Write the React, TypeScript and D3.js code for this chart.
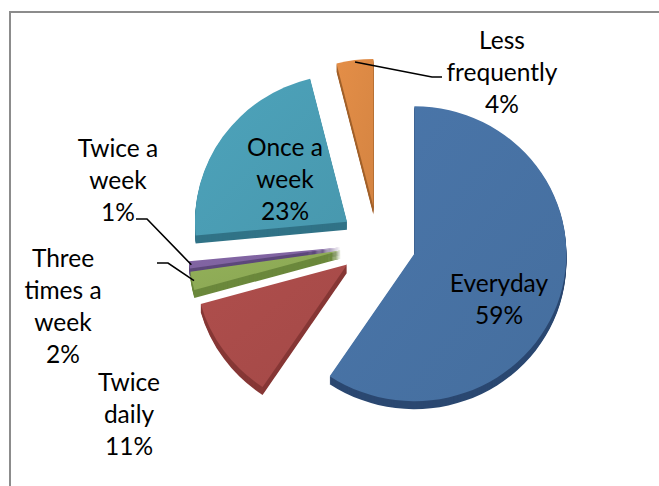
import { useEffect, useRef } from "react";
import * as d3 from "d3";

// slice order as drawn, clockwise from 12 o'clock
const categories = ["Everyday", "Twice daily", "Three times a week", "Twice a week", "Once a week", "Less frequently"];
const values = [59.4, 11.3, 2.0, 0.8, 22.6, 3.9];
const labelLines = [
  ["Everyday"],
  ["Twice", "daily"],
  ["Three", "times a", "week"],
  ["Twice a", "week"],
  ["Once a", "week"],
  ["Less", "frequently"],
];
const topColors = ["#4771a3", "#a84b49", "#8daa55", "#7f63a0", "#4a9cb3", "#da8844"];
const sideColors = ["#2b4871", "#873836", "#6b883c", "#5d487b", "#317387", "#a2602a"];

function App() {
  const ref = useRef<SVGSVGElement>(null);
  const width = 659;
  const height = 486;

  useEffect(() => {
    buildChart();
  }, []);

  const buildChart = () => {
    const svg = d3.select(ref.current);
    svg.selectAll("*").remove();

    const cx = 378;
    const cy = 243;
    const r = 152;
    const tilt = 0.97; // vertical squash of the disc
    const depth = 8;
    const explode = 38;
    const total = d3.sum(values);

    // chart area frame (only top + left are in view)
    svg
      .append("path")
      .attr("d", `M10,${height} V12 H${width}`)
      .attr("fill", "none")
      .attr("stroke", "#8c8c8c")
      .attr("stroke-width", 2);

    const pie = d3
      .pie<number>()
      .sort(null)
      .value((d) => d);
    const arcs = pie(values);
    const arc = d3.arc<d3.PieArcDatum<number>>().innerRadius(0).outerRadius(r);

    const dir = (a: number) => [Math.sin(a), -Math.cos(a) * tilt];
    const apex = (d: d3.PieArcDatum<number>) => {
      const [dx, dy] = dir((d.startAngle + d.endAngle) / 2);
      return [cx + dx * explode, cy + dy * explode];
    };

    const defs = svg.append("defs");
    topColors.forEach((c, i) => {
      const g = defs
        .append("linearGradient")
        .attr("id", "g" + i)
        .attr("x1", 0)
        .attr("y1", 0)
        .attr("x2", 1)
        .attr("y2", 1);
      g.append("stop").attr("offset", 0).attr("stop-color", d3.color(c)!.brighter(0.12).toString());
      g.append("stop").attr("offset", 1).attr("stop-color", d3.color(c)!.darker(0.08).toString());
    });

    // draw back slices first
    const order = d3.range(arcs.length).sort((a, b) => apex(arcs[a])[1] - apex(arcs[b])[1]);

    order.forEach((i) => {
      const d = arcs[i];
      const [ax, ay] = apex(d);
      const g = svg.append("g");
      for (let k = depth; k >= 1; k--) {
        g.append("path")
          .attr("d", arc(d))
          .attr("transform", `translate(${ax},${ay + k}) scale(1,${tilt})`)
          .attr("fill", sideColors[i]);
      }
      g.append("path")
        .attr("d", arc(d))
        .attr("transform", `translate(${ax},${ay}) scale(1,${tilt})`)
        .attr("fill", `url(#g${i})`);
    });

    // label placement (centre x, first line y)
    const labelPos: [number, number][] = [
      [499, 282],
      [129, 381],
      [63, 257],
      [118, 147],
      [285, 146],
      [502, 39],
    ];
    const lineH = 32;
    const font = "Lato, 'Open Sans', sans-serif";

    // leader lines for the outside labels: text side point, elbow, then slice rim
    const leaders: Record<number, [number, number][]> = {
      2: [
        [157, 263],
        [168, 263],
      ],
      3: [
        [136, 219],
        [147, 219],
      ],
      5: [
        [442, 77],
        [432, 77],
      ],
    };
    Object.entries(leaders).forEach(([key, pts]) => {
      const i = +key;
      const d = arcs[i];
      const [ax, ay] = apex(d);
      const [dx, dy] = dir((d.startAngle + d.endAngle) / 2);
      const rim: [number, number] = [ax + dx * (r - 2), ay + dy * (r - 2)];
      svg
        .append("path")
        .attr("d", d3.line()([...pts, rim]))
        .attr("fill", "none")
        .attr("stroke", "#000")
        .attr("stroke-width", 1.6);
    });

    arcs.forEach((d, i) => {
      const pct = Math.round((d.data / total) * 100) + "%";
      const lines = [...labelLines[i], pct];
      const [x, y] = labelPos[i];
      const t = svg
        .append("text")
        .attr("text-anchor", "middle")
        .attr("font-family", font)
        .attr("font-size", 24.5)
        .attr("fill", "#000");
      lines.forEach((s, j) => {
        t.append("tspan")
          .attr("x", x)
          .attr("y", y + j * lineH)
          .attr("dominant-baseline", "central")
          .text(s);
      });
    });
  };

  return (
    <svg
      ref={ref}
      width={width}
      height={height}
      style={{ position: "absolute", left: 0, top: 0, background: "#fff" }}
      aria-label={categories.join(", ")}
    />
  );
}

export default App;
